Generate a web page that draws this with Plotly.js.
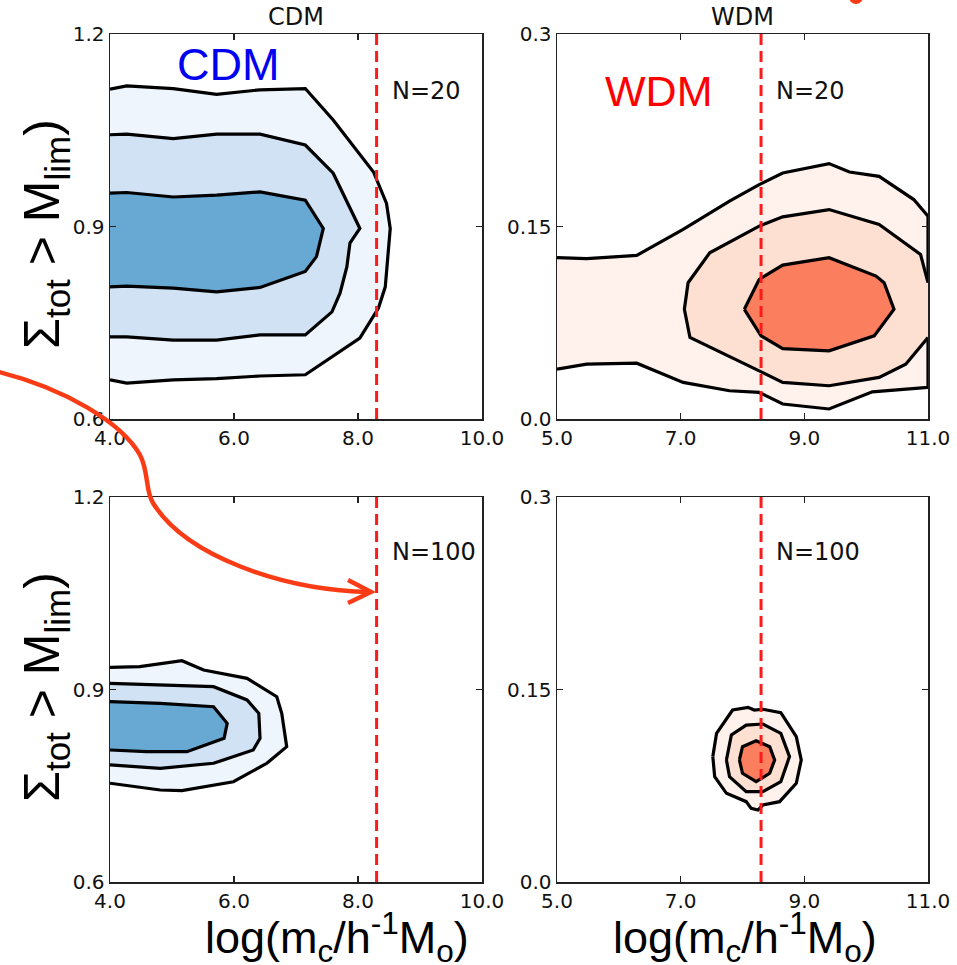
<!DOCTYPE html>
<html>
<head>
<meta charset="utf-8">
<script src="https://cdn.plot.ly/plotly-3.0.1.min.js"></script>
<style>html,body{margin:0;padding:0;background:#fff;}#plot{width:957px;height:965px;}</style>
</head>
<body>
<div id="plot"></div>
<script>
// ---------- DATA ----------
// CDM, N=20 (top-left) contour levels: x = log(m_c), y = Sigma
const cdm20OuterX = [4.0, 4.27, 5.02, 5.72, 6.42, 7.15, 7.60, 8.25, 8.46, 8.52, 8.44, 8.33, 8.03, 7.15, 6.42, 5.72, 5.02, 4.27, 4.0];
const cdm20OuterY = [1.114, 1.119, 1.115, 1.106, 1.113, 1.115, 1.066, 0.985, 0.936, 0.897, 0.806, 0.773, 0.726, 0.669, 0.667, 0.663, 0.661, 0.656, 0.661];
const cdm20MidX = [4.0, 4.27, 5.02, 5.72, 6.42, 7.15, 7.60, 7.84, 8.03, 7.87, 7.82, 7.71, 7.58, 7.15, 6.42, 5.72, 5.02, 4.27, 4.0];
const cdm20MidY = [1.043, 1.044, 1.037, 1.044, 1.044, 1.027, 0.983, 0.936, 0.897, 0.874, 0.837, 0.796, 0.767, 0.731, 0.731, 0.723, 0.723, 0.728, 0.728];
const cdm20InnerX = [4.0, 4.27, 5.02, 5.72, 6.42, 7.15, 7.44, 7.33, 7.15, 6.42, 5.72, 5.02, 4.27, 4.0];
const cdm20InnerY = [0.952, 0.953, 0.946, 0.949, 0.954, 0.941, 0.897, 0.853, 0.830, 0.805, 0.798, 0.804, 0.807, 0.806];

// WDM, N=20 (top-right)
const wdm20OuterX = [5.0, 5.48, 6.29, 7.04, 7.79, 8.27, 8.65, 9.40, 9.73, 10.21, 10.77, 11.0, 11.0, 10.10, 9.40, 8.65, 8.27, 7.79, 7.04, 6.29, 5.48, 5.0];
const wdm20OuterY = [0.1257, 0.1249, 0.1275, 0.1477, 0.1697, 0.1826, 0.1917, 0.1990, 0.1925, 0.1891, 0.1710, 0.1580, 0.0246, 0.0212, 0.0078, 0.0117, 0.0207, 0.0220, 0.0285, 0.0435, 0.0427, 0.0389];
const wdm20MidX = [11.0, 10.88, 10.21, 9.40, 8.65, 8.27, 7.47, 7.12, 7.06, 7.15, 8.27, 8.65, 9.40, 10.21, 10.64, 11.0];
const wdm20MidY = [0.1062, 0.1282, 0.1516, 0.1632, 0.1575, 0.1503, 0.1295, 0.1062, 0.0855, 0.0635, 0.0375, 0.0285, 0.0259, 0.0324, 0.0427, 0.0635];
const wdm20InnerX = [8.03, 8.27, 8.65, 9.40, 10.16, 10.29, 10.45, 10.13, 9.40, 8.65, 8.30, 8.03];
const wdm20InnerY = [0.0855, 0.1088, 0.1199, 0.1257, 0.1114, 0.1062, 0.0855, 0.0648, 0.0531, 0.0549, 0.0648, 0.0855];

// CDM, N=100 (bottom-left)
const cdm100OuterX = [4.0, 4.48, 5.16, 5.51, 6.21, 6.69, 6.77, 6.85, 6.53, 5.99, 5.16, 4.81, 4.0];
const cdm100OuterY = [0.9346, 0.9356, 0.9449, 0.9304, 0.9174, 0.8888, 0.8629, 0.8109, 0.7850, 0.7563, 0.7423, 0.7434, 0.7539];
const cdm100MidX = [4.0, 4.81, 5.67, 6.21, 6.40, 6.42, 6.31, 5.67, 4.81, 4.0];
const cdm100MidY = [0.9097, 0.9070, 0.9044, 0.8837, 0.8629, 0.8240, 0.8057, 0.7850, 0.7772, 0.7824];
const cdm100InnerX = [4.0, 4.81, 5.67, 5.89, 5.84, 5.24, 4.59, 4.0];
const cdm100InnerY = [0.8810, 0.8785, 0.8732, 0.8473, 0.8240, 0.8031, 0.8031, 0.8057];

// WDM, N=100 (bottom-right)
const wdm100OuterX = [7.52, 7.58, 7.84, 8.09, 8.19, 8.33, 8.62, 8.87, 8.95, 8.87, 8.60, 8.33, 8.25, 8.14, 8.06, 7.74, 7.55, 7.52];
const wdm100OuterY = [0.0977, 0.1158, 0.1340, 0.1361, 0.1340, 0.1346, 0.1319, 0.1132, 0.0951, 0.0769, 0.0626, 0.0600, 0.0561, 0.0574, 0.0626, 0.0691, 0.0821, 0.0977];
const wdm100MidX = [7.74, 7.82, 8.06, 8.33, 8.62, 8.76, 8.62, 8.33, 8.06, 7.79, 7.74];
const wdm100MidY = [0.0951, 0.1146, 0.1223, 0.1231, 0.1158, 0.0977, 0.0782, 0.0704, 0.0704, 0.0821, 0.0951];
const wdm100InnerX = [7.95, 8.00, 8.22, 8.44, 8.52, 8.44, 8.22, 8.00, 7.95];
const wdm100InnerY = [0.0951, 0.1054, 0.1101, 0.1054, 0.0951, 0.0847, 0.0782, 0.0847, 0.0951];

// reference cut-off (dashed line)
const cutoffLogM = 8.3;

// axes ticks
const cdmXTicks = [4, 6, 8, 10];
const cdmXTickText = ['4.0', '6.0', '8.0', '10.0'];
const wdmXTicks = [5, 7, 9, 11];
const wdmXTickText = ['5.0', '7.0', '9.0', '11.0'];
const cdmYTicks = [0.6, 0.9, 1.2];
const cdmYTickText = ['0.6', '0.9', '1.2'];
const wdmYTicks = [0.0, 0.15, 0.3];
const wdmYTickText = ['0.0', '0.15', '0.3'];
const sampleLabels = ['N=20', 'N=20', 'N=100', 'N=100'];
const panelTitles = ['CDM', 'WDM'];

// ---------- STYLE ----------
const W = 957, H = 965;
const blues = ['#eff5fc', '#d0e2f3', '#68a9d4'];
const reds = ['#fff2ec', '#fde0d2', '#fb7f5f'];
const tickFont = {family: 'DejaVu Sans', size: 20, color: '#111'};
const px = v => v / W;
const py = v => 1 - v / H;

function level(x, y, fill, xa, ya) {
  return {type: 'scatter', mode: 'lines', x: x, y: y, xaxis: xa, yaxis: ya,
    fill: 'toself', fillcolor: fill, line: {color: '#000', width: 3.2},
    hoverinfo: 'skip', showlegend: false};
}

const data = [
  level(cdm20OuterX, cdm20OuterY, blues[0], 'x', 'y'),
  level(cdm20MidX, cdm20MidY, blues[1], 'x', 'y'),
  level(cdm20InnerX, cdm20InnerY, blues[2], 'x', 'y'),
  level(wdm20OuterX, wdm20OuterY, reds[0], 'x2', 'y2'),
  level(wdm20MidX, wdm20MidY, reds[1], 'x2', 'y2'),
  level(wdm20InnerX, wdm20InnerY, reds[2], 'x2', 'y2'),
  level(cdm100OuterX, cdm100OuterY, blues[0], 'x3', 'y3'),
  level(cdm100MidX, cdm100MidY, blues[1], 'x3', 'y3'),
  level(cdm100InnerX, cdm100InnerY, blues[2], 'x3', 'y3'),
  level(wdm100OuterX, wdm100OuterY, reds[0], 'x4', 'y4'),
  level(wdm100MidX, wdm100MidY, reds[1], 'x4', 'y4'),
  level(wdm100InnerX, wdm100InnerY, reds[2], 'x4', 'y4')
];

const colDom = [[110 / W, 482 / W], [557 / W, 928 / W]];
const rowDom = [[1 - 419 / H, 1 - 34 / H], [1 - 882 / H, 1 - 497 / H]];

function xax(dom, range, tv, tt, anchor) {
  return {domain: dom, range: range, anchor: anchor, tickvals: tv, ticktext: tt,
    showline: true, mirror: 'ticks', linecolor: '#222', linewidth: 1.5,
    ticks: 'inside', ticklen: 6, tickcolor: '#222', tickwidth: 1.2,
    showgrid: false, zeroline: false, tickfont: tickFont, fixedrange: true};
}
const layout = {
  width: W, height: H, margin: {l: 0, r: 0, t: 0, b: 0},
  paper_bgcolor: '#fff', plot_bgcolor: '#fff', showlegend: false,
  xaxis: xax(colDom[0], [4, 10], cdmXTicks, cdmXTickText, 'y'),
  yaxis: xax(rowDom[0], [0.6, 1.2], cdmYTicks, cdmYTickText, 'x'),
  xaxis2: xax(colDom[1], [5, 11], wdmXTicks, wdmXTickText, 'y2'),
  yaxis2: xax(rowDom[0], [0.0, 0.3], wdmYTicks, wdmYTickText, 'x2'),
  xaxis3: xax(colDom[0], [4, 10], cdmXTicks, cdmXTickText, 'y3'),
  yaxis3: xax(rowDom[1], [0.6, 1.2], cdmYTicks, cdmYTickText, 'x3'),
  xaxis4: xax(colDom[1], [5, 11], wdmXTicks, wdmXTickText, 'y4'),
  yaxis4: xax(rowDom[1], [0.0, 0.3], wdmYTicks, wdmYTickText, 'x4'),
  shapes: [],
  annotations: []
};

// dashed cut-off lines
['', '2', '3', '4'].forEach(s => {
  layout.shapes.push({type: 'line', xref: 'x' + s, yref: 'y' + s + ' domain',
    x0: cutoffLogM, x1: cutoffLogM, y0: 0, y1: 1,
    line: {color: '#ff1a1a', width: 3, dash: '11px,6px'}, layer: 'above'});
});

// curved red arrow (decoration, pixel coords -> paper)
function P(x, y) { return px(x).toFixed(5) + ',' + py(y).toFixed(5); }
layout.shapes.push({type: 'path', xref: 'paper', yref: 'paper',
  path: 'M' + P(-5, 371) + ' C' + P(65, 388) + ' ' + P(122, 423) + ' ' + P(140, 455) +
        ' C' + P(149, 472) + ' ' + P(145, 490) + ' ' + P(153, 503) +
        ' C' + P(185, 555) + ' ' + P(280, 590) + ' ' + P(370, 592),
  line: {color: '#fa3c16', width: 4.5}, layer: 'above'});
layout.shapes.push({type: 'path', xref: 'paper', yref: 'paper',
  path: 'M' + P(348, 580) + ' L' + P(371, 592) + ' L' + P(348, 603),
  line: {color: '#fa3c16', width: 4.5}, layer: 'above'});
layout.shapes.push({type: 'circle', xref: 'paper', yref: 'paper',
  x0: px(849), x1: px(863), y0: py(4), y1: py(-10),
  fillcolor: '#fa3c16', line: {width: 0}});

// panel titles
layout.annotations.push({xref: 'paper', yref: 'paper', x: px(296), y: py(17), text: panelTitles[0],
  showarrow: false, xanchor: 'center', yanchor: 'middle', font: {family: 'DejaVu Sans', size: 24, color: '#111'}});
layout.annotations.push({xref: 'paper', yref: 'paper', x: px(742.5), y: py(17), text: panelTitles[1],
  showarrow: false, xanchor: 'center', yanchor: 'middle', font: {family: 'DejaVu Sans', size: 24, color: '#111'}});

// big coloured labels
layout.annotations.push({xref: 'x', yref: 'y', x: 5.91, y: 1.152, text: 'CDM', showarrow: false,
  xanchor: 'center', yanchor: 'middle', font: {family: 'Liberation Sans', size: 45, color: '#0000f0'}});
layout.annotations.push({xref: 'x2', yref: 'y2', x: 6.645, y: 0.2553, text: 'WDM', showarrow: false,
  xanchor: 'center', yanchor: 'middle', font: {family: 'Liberation Sans', size: 43, color: '#ff0000'}});

// N labels
const nPos = [['x', 'y', 8.516, 1.111], ['x2', 'y2', 8.516, 0.2557], ['x3', 'y3', 8.516, 1.114], ['x4', 'y4', 8.516, 0.257]];
nPos.forEach((p, i) => {
  layout.annotations.push({xref: p[0], yref: p[1], x: p[2], y: p[3], text: sampleLabels[i], showarrow: false,
    xanchor: 'left', yanchor: 'middle', font: {family: 'DejaVu Sans', size: 24, color: '#111'}});
});

// axis titles
const yTitle = '\u03A3<sub>tot</sub> > M<sub>lim</sub>)';
const xTitle = 'log(m<sub>c</sub>/h<sup>-1</sup>M<sub>o</sub>)';
[234, 687].forEach(yy => {
  layout.annotations.push({xref: 'paper', yref: 'paper', x: px(45), y: py(yy), text: yTitle, textangle: -90,
    showarrow: false, xanchor: 'center', yanchor: 'middle', font: {family: 'Liberation Sans', size: 50, color: '#000'}});
});
[337, 745].forEach(xx => {
  layout.annotations.push({xref: 'paper', yref: 'paper', x: px(xx), y: py(937), text: xTitle,
    showarrow: false, xanchor: 'center', yanchor: 'middle', font: {family: 'Liberation Sans', size: 45, color: '#000'}});
});

Plotly.newPlot('plot', data, layout, {staticPlot: true, displayModeBar: false});
</script>
</body>
</html>
